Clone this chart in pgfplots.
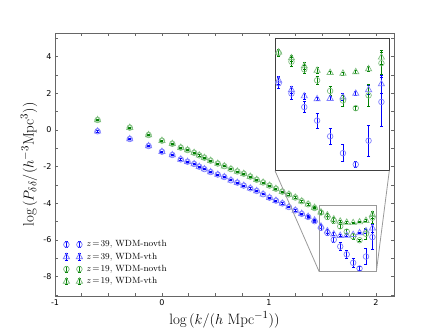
\documentclass[border=0pt]{standalone}
\usepackage{fontspec}
\usepackage{pgfplots}
\pgfplotsset{compat=1.18}
\usepackage{pgfplotstable}
\newfontfamily\tickfont{DejaVu Sans}
\definecolor{mblue}{rgb}{0,0,1}
\definecolor{mgreen}{rgb}{0,0.5,0}

\pgfplotstableread{
x y e
-0.602 -0.07 0.04
-0.301 -0.49 0.04
-0.125 -0.87 0.04
0.000 -1.18 0.04
0.097 -1.36 0.03
0.176 -1.60 0.03
0.239 -1.73 0.03
0.301 -1.85 0.03
0.349 -2.00 0.03
0.397 -2.13 0.03
0.455 -2.29 0.03
0.522 -2.43 0.03
0.583 -2.56 0.03
0.645 -2.74 0.03
0.705 -2.87 0.03
0.765 -3.03 0.03
0.826 -3.18 0.03
0.886 -3.32 0.03
0.946 -3.50 0.03
1.006 -3.69 0.03
1.066 -3.85 0.03
1.126 -4.00 0.04
1.187 -4.20 0.04
1.247 -4.38 0.05
1.307 -4.57 0.05
1.367 -4.74 0.06
1.427 -4.97 0.07
1.487 -5.33 0.15
1.547 -5.61 0.15
1.607 -5.98 0.15
1.667 -6.35 0.20
1.728 -6.78 0.23
1.788 -7.24 0.23
1.848 -7.55 0.09
1.908 -6.90 0.43
1.968 -5.84 0.68
}\bn

\pgfplotstableread{
x y e
-0.602 -0.07 0.04
-0.301 -0.49 0.04
-0.125 -0.87 0.04
0.000 -1.18 0.04
0.097 -1.36 0.03
0.176 -1.60 0.03
0.239 -1.73 0.03
0.301 -1.85 0.03
0.349 -2.00 0.03
0.397 -2.13 0.03
0.455 -2.29 0.03
0.522 -2.43 0.03
0.583 -2.56 0.03
0.645 -2.74 0.03
0.705 -2.87 0.03
0.765 -3.03 0.03
0.826 -3.18 0.03
0.886 -3.32 0.03
0.946 -3.50 0.03
1.006 -3.69 0.03
1.066 -3.85 0.03
1.126 -4.00 0.04
1.187 -4.20 0.04
1.247 -4.38 0.04
1.307 -4.56 0.04
1.367 -4.72 0.05
1.427 -4.92 0.05
1.487 -5.25 0.10
1.547 -5.51 0.10
1.607 -5.68 0.08
1.667 -5.76 0.05
1.728 -5.75 0.05
1.788 -5.71 0.10
1.848 -5.61 0.05
1.908 -5.51 0.12
1.968 -5.35 0.25
}\bv

\pgfplotstableread{
x y e
-0.602 0.55 0.04
-0.301 0.13 0.04
-0.125 -0.27 0.04
0.000 -0.58 0.04
0.097 -0.75 0.03
0.176 -0.96 0.03
0.239 -1.09 0.03
0.301 -1.24 0.03
0.349 -1.38 0.03
0.397 -1.51 0.03
0.455 -1.67 0.03
0.522 -1.83 0.03
0.583 -1.97 0.03
0.645 -2.13 0.03
0.705 -2.26 0.03
0.765 -2.38 0.03
0.826 -2.54 0.03
0.886 -2.71 0.03
0.946 -2.86 0.03
1.006 -3.03 0.03
1.066 -3.20 0.03
1.126 -3.36 0.03
1.187 -3.51 0.04
1.247 -3.68 0.04
1.307 -3.88 0.04
1.367 -4.05 0.05
1.427 -4.25 0.06
1.487 -4.50 0.10
1.547 -4.74 0.12
1.607 -4.95 0.12
1.667 -5.25 0.12
1.728 -5.54 0.12
1.788 -5.80 0.15
1.848 -6.01 0.05
1.908 -5.66 0.30
1.968 -4.78 0.30
}\gn

\pgfplotstableread{
x y e
-0.602 0.55 0.04
-0.301 0.13 0.04
-0.125 -0.27 0.04
0.000 -0.58 0.04
0.097 -0.75 0.03
0.176 -0.96 0.03
0.239 -1.09 0.03
0.301 -1.24 0.03
0.349 -1.38 0.03
0.397 -1.51 0.03
0.455 -1.67 0.03
0.522 -1.83 0.03
0.583 -1.97 0.03
0.645 -2.13 0.03
0.705 -2.26 0.03
0.765 -2.38 0.03
0.826 -2.54 0.03
0.886 -2.71 0.03
0.946 -2.86 0.03
1.006 -3.03 0.03
1.066 -3.20 0.03
1.126 -3.36 0.03
1.187 -3.51 0.04
1.247 -3.68 0.04
1.307 -3.88 0.04
1.367 -4.05 0.04
1.427 -4.23 0.05
1.487 -4.48 0.08
1.547 -4.64 0.08
1.607 -4.86 0.10
1.667 -4.98 0.08
1.728 -5.04 0.04
1.788 -5.06 0.04
1.848 -5.02 0.04
1.908 -4.94 0.06
1.968 -4.62 0.20
}\gv

\pgfplotsset{
  myleg/.style n args={3}{legend image code/.code={%
    \draw[#1, line width=0.7pt] (0pt,-3.2pt)--(0pt,3.2pt) (-1.6pt,-3.2pt)--(1.6pt,-3.2pt) (-1.6pt,3.2pt)--(1.6pt,3.2pt)
      (13pt,-3.2pt)--(13pt,3.2pt) (11.4pt,-3.2pt)--(14.6pt,-3.2pt) (11.4pt,3.2pt)--(14.6pt,3.2pt);
    \draw[#1!55, line width=0.7pt] plot[only marks, mark=#2, mark size=#3, mark options={fill=none, solid}] coordinates {(0pt,0pt) (13pt,0pt)};
    \path (18pt,0pt);
  }},
  estyle/.style={only marks, color=#1,
    mark options={draw=#1!50, fill=none, line width=0.7pt, solid},
    error bars/.cd, y dir=both, y explicit,
    error bar style={line width=0.7pt, color=#1, solid},
    error mark options={rotate=90, mark size=1.5pt, line width=0.7pt, color=#1}},
}

\begin{document}
\begin{tikzpicture}
\useasboundingbox (-55pt,-33pt) rectangle (383pt,296pt);
\begin{axis}[
  scale only axis, width=339pt, height=263pt,
  at={(0pt,0pt)}, anchor=south west,
  xmin=-1, xmax=2.17, ymin=-9.05, ymax=5.29,
  xtick={-1,0,1,2}, xticklabels={-1,0,1,2},
  minor xtick={-0.75,-0.5,-0.25,0.25,0.5,0.75,1.25,1.5,1.75},
  ytick={-8,-6,-4,-2,0,2,4}, yticklabels={-8,-6,-4,-2,0,2,4},
  minor ytick={-9,-7,-5,-3,-1,1,3,5},
  xtick pos=both, ytick pos=both, xticklabel pos=lower, yticklabel pos=left,
  tick align=inside, major tick length=3pt, minor tick length=3pt,
  tick style={color=black!60, line width=0.6pt},
  axis line style={color=black!60, line width=0.8pt},
  ticklabel style={font=\tickfont\fontsize{8}{9}\selectfont},
  xlabel={$\log\big(k/(h\ \mathrm{Mpc}^{-1})\big)$},
  ylabel={$\log\big(P_{\delta\delta}/(h^{-3}\mathrm{Mpc}^3)\big)$},
  label style={font=\fontsize{15}{18}\selectfont},
  xlabel style={at={(axis description cs:0.5,-0.091)}, anchor=center},
  ylabel style={at={(axis description cs:-0.077,0.5)}, anchor=center, rotate=0},
  legend style={draw=none, fill=none, at={(axis description cs:0.015,0.025)}, anchor=south west,
    font=\fontsize{9}{10}\selectfont, row sep=0.5pt},
  legend cell align=left,
]
\addplot[mark=o, mark size=2.8pt, myleg={mblue}{o}{2.8pt}, estyle=mblue] table[x=x,y=y,y error=e] {\bn};
\addlegendentry{$z\!=\!39$, WDM-novth}
\addplot[mark=triangle, mark size=3.6pt, myleg={mblue}{triangle}{3.6pt}, estyle=mblue] table[x=x,y=y,y error=e] {\bv};
\addlegendentry{$z\!=\!39$, WDM-vth}
\addplot[mark=o, mark size=2.8pt, myleg={mgreen}{o}{2.8pt}, estyle=mgreen] table[x=x,y=y,y error=e] {\gn};
\addlegendentry{$z\!=\!19$, WDM-novth}
\addplot[mark=triangle, mark size=3.6pt, myleg={mgreen}{triangle}{3.6pt}, estyle=mgreen] table[x=x,y=y,y error=e] {\gv};
\addlegendentry{$z\!=\!19$, WDM-vth}
\draw[black!40, line width=0.8pt] (axis cs:1.47,-7.72) rectangle (axis cs:2.005,-4.10);
\coordinate (boxbl) at (axis cs:1.47,-7.72);
\coordinate (boxbr) at (axis cs:2.005,-7.72);
\end{axis}
\begin{axis}[
  name=inset,
  scale only axis, width=114.3pt, height=132.4pt,
  at={(220pt,125.3pt)}, anchor=south west,
  xmin=1.47, xmax=2.005, ymin=-7.72, ymax=-4.10,
  xtick=\empty, ytick=\empty,
  axis line style={color=black!75, line width=1pt},
  axis background/.style={fill=white},
]
\addplot[mark=o, mark size=2.8pt, estyle=mblue] table[x=x,y=y,y error=e] {\bn};
\addplot[mark=triangle, mark size=3.6pt, estyle=mblue] table[x=x,y=y,y error=e] {\bv};
\addplot[mark=o, mark size=2.8pt, estyle=mgreen] table[x=x,y=y,y error=e] {\gn};
\addplot[mark=triangle, mark size=3.6pt, estyle=mgreen] table[x=x,y=y,y error=e] {\gv};
\end{axis}
\draw[black!40, line width=0.8pt] (inset.south west) -- (boxbl);
\draw[black!40, line width=0.8pt] (inset.south east) -- (boxbr);
\end{tikzpicture}
\end{document}
